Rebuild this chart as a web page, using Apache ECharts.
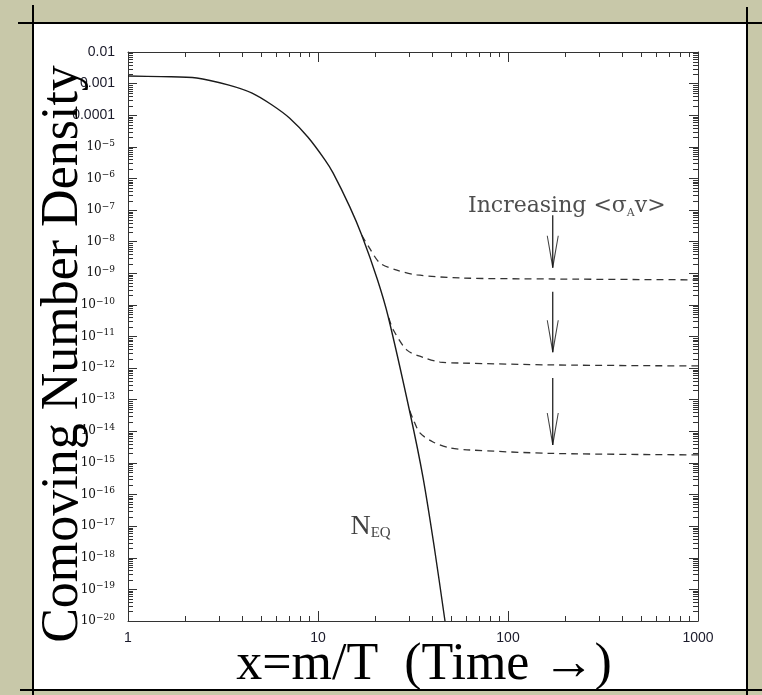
<!DOCTYPE html>
<html>
<head>
<meta charset="utf-8">
<script src="https://cdn.jsdelivr.net/npm/echarts@6/dist/echarts.min.js"></script>
<style>
html,body{margin:0;padding:0;background:#c8c8a9;}
#chart{width:762px;height:695px;}
</style>
</head>
<body>
<div id="chart"></div>
<script>
// ---- data ----
const xTickLabels = ['1', '10', '100', '1000'];
const yTickLabels = ['0.01', '0.001', '0.0001', '10^-5', '10^-6', '10^-7', '10^-8', '10^-9', '10^-10',
  '10^-11', '10^-12', '10^-13', '10^-14', '10^-15', '10^-16', '10^-17', '10^-18', '10^-19', '10^-20'];

// equilibrium curve N_EQ (solid)
const nEqX = [1, 1.5, 2.3, 3.36, 4.5, 5.73, 7.1, 8.86, 10.9, 12.0, 14.7, 17.0, 20.5, 23.4, 30.5, 35.7, 41, 46.6];
const nEqY = [1.74e-3, 1.66e-3, 1.51e-3, 9.1e-4, 5.0e-4, 2.1e-4, 8.0e-5, 2.0e-5, 3.8e-6, 1.5e-6, 1.26e-7,
  1.6e-8, 6.6e-10, 4.3e-11, 3.8e-14, 3.5e-16, 2.0e-18, 1e-20];

// freeze-out curves (dashed)
const fo1X = [17.0, 18.6, 21.2, 26.0, 33.2, 55.9, 172, 1000];
const fo1Y = [1.6e-8, 6.5e-9, 2.1e-9, 1.26e-9, 8.9e-10, 7.1e-10, 6.6e-10, 6.2e-10];
const fo2X = [23.6, 24.8, 29.4, 35.7, 43.9, 55.9, 172, 1000];
const fo2Y = [3.9e-11, 1.7e-11, 3.7e-12, 2.2e-12, 1.55e-12, 1.45e-12, 1.26e-12, 1.17e-12];
const fo3X = [30.4, 31.6, 34.4, 40.3, 49.5, 60.8, 172, 1000];
const fo3Y = [4.5e-14, 2.5e-14, 8.9e-15, 4.6e-15, 3.0e-15, 2.6e-15, 2.0e-15, 1.8e-15];

// arrows "Increasing <sigma v>"
const arrowX = 172;
const arrowTop = [6.9e-8, 2.6e-10, 4.9e-13];
const arrowTip = [1.5e-9, 3.2e-12, 3.7e-15];

// ---- minor ticks (log 2..9 per decade) ----
const xDecades = [1, 10, 100];
const yDecades = [];
for (let e = -20; e <= -3; e++) yDecades.push(Math.pow(10, e));
const mult = [2, 3, 4, 5, 6, 7, 8, 9];
const xMinor = [];
xDecades.forEach(d => mult.forEach(m => xMinor.push(d * m)));
const yMinor = [];
yDecades.forEach(d => mult.forEach(m => yMinor.push(d * m)));

const X_MIN = 1, X_MAX = 1000, Y_MIN = 1e-20, Y_MAX = 0.01;
const AX = '#333';

function pair(xs, ys) { return xs.map((x, i) => [x, ys[i]]); }

const chart = echarts.init(document.getElementById('chart'), null, {renderer: 'canvas'});

function yLabel(v) {
  const i = Math.round(-2 - Math.log10(v));
  const s = yTickLabels[i];
  if (s == null) return '';
  if (s.indexOf('10^') === 0) return '{m|10}{e|' + s.slice(3).replace('-', '\u2212') + '}';
  return '{d|' + s + '}';
}
function xLabel(v) {
  const i = Math.round(Math.log10(v));
  return xTickLabels[i] == null ? '' : xTickLabels[i];
}

const baseX = {
  type: 'log', logBase: 10, min: X_MIN, max: X_MAX, interval: 1, splitNumber: 3,
  axisLine: {show: true, lineStyle: {color: AX, width: 1}},
  axisTick: {show: true, inside: true, length: 10, lineStyle: {color: AX, width: 1}},
  splitLine: {show: false}, minorTick: {show: false}
};
const baseY = {
  type: 'log', logBase: 10, min: Y_MIN, max: Y_MAX, interval: 1, splitNumber: 18,
  axisLine: {show: true, lineStyle: {color: AX, width: 1}},
  axisTick: {show: true, inside: true, length: 9, lineStyle: {color: AX, width: 1}},
  splitLine: {show: false}, minorTick: {show: false}
};

const arrowSeries = [];
arrowTop.forEach((t, i) => {
  arrowSeries.push({
    type: 'line', xAxisIndex: 0, yAxisIndex: 0, symbol: 'none', silent: true, z: 4,
    lineStyle: {color: '#111', width: 1.2},
    data: [[arrowX, t], [arrowX, arrowTip[i]]]
  });
});
arrowSeries.push({
  type: 'scatter', xAxisIndex: 0, yAxisIndex: 0, silent: true, z: 4,
  symbol: 'path://M0,0 L1,0 L6,28 L11,0 L12,0 L6.5,32 L5.5,32 Z',
  symbolSize: [12, 32], symbolOffset: [0, -16],
  itemStyle: {color: '#111'},
  data: arrowTip.map(v => [arrowX, v])
});

const dashStyle = {color: '#333', width: 1.3, type: [7, 5]};

const option = {
  animation: false,
  backgroundColor: 'transparent',
  grid: {left: 128, top: 52, width: 570, height: 569, containLabel: false},
  xAxis: [
    Object.assign({}, baseX, {position: 'bottom',
      axisLabel: {show: true, margin: 10, formatter: xLabel, fontFamily: 'Liberation Sans', fontSize: 14, color: '#1a1a2a'}}),
    Object.assign({}, baseX, {position: 'top', axisLabel: {show: false}})
  ],
  yAxis: [
    Object.assign({}, baseY, {position: 'left',
      axisLabel: {show: true, margin: 13, formatter: yLabel,
        rich: {
          d: {fontFamily: 'Liberation Sans', fontSize: 14, color: '#1a1a2a'},
          m: {fontFamily: 'DejaVu Serif', fontSize: 12, lineHeight: 16, color: '#111'},
          e: {fontFamily: 'DejaVu Serif', fontSize: 9, lineHeight: 10, verticalAlign: 'top', color: '#111'}
        }}}),
    Object.assign({}, baseY, {position: 'right', axisLabel: {show: false}})
  ],
  graphic: [
    {type: 'rect', z: -10, shape: {x: 33, y: 23, width: 714, height: 667}, style: {fill: '#ffffff'}},
    {type: 'line', z: -5, shape: {x1: 33, y1: 5, x2: 33, y2: 695}, style: {stroke: '#000', lineWidth: 2}},
    {type: 'line', z: -5, shape: {x1: 18, y1: 23, x2: 762, y2: 23}, style: {stroke: '#000', lineWidth: 2}},
    {type: 'line', z: -5, shape: {x1: 747, y1: 7, x2: 747, y2: 695}, style: {stroke: '#000', lineWidth: 2}},
    {type: 'line', z: -5, shape: {x1: 20, y1: 690, x2: 762, y2: 690}, style: {stroke: '#000', lineWidth: 2}},
    {type: 'text', z: 10, x: 63, y: 354, rotation: Math.PI / 2,
      style: {text: 'Comoving Number Density', font: '52px "Liberation Serif"', fill: '#000', align: 'center', verticalAlign: 'middle'}},
    {type: 'text', z: 10, x: 424, y: 665,
      style: {text: 'x=m/T  (Time \u2192)', font: '52px "Liberation Serif"', fill: '#000', align: 'center', verticalAlign: 'middle'}}
  ],
  series: [
    {
      type: 'custom', xAxisIndex: 0, yAxisIndex: 0, silent: true, clip: false, z: 3,
      data: yMinor.map(v => [X_MIN, v]),
      renderItem: function (params, api) {
        const v = api.value(1);
        const a = api.coord([X_MIN, v]);
        const b = api.coord([X_MAX, v]);
        const y = Math.round(a[1]) + 0.5;
        return {type: 'group', children: [
          {type: 'line', shape: {x1: a[0], y1: y, x2: a[0] + 5, y2: y}, style: {stroke: AX, lineWidth: 1}},
          {type: 'line', shape: {x1: b[0], y1: y, x2: b[0] - 5, y2: y}, style: {stroke: AX, lineWidth: 1}}
        ]};
      }
    },
    {
      type: 'custom', xAxisIndex: 0, yAxisIndex: 0, silent: true, clip: false, z: 3,
      data: xMinor.map(v => [v, Y_MIN]),
      renderItem: function (params, api) {
        const v = api.value(0);
        const a = api.coord([v, Y_MIN]);
        const b = api.coord([v, Y_MAX]);
        const x = Math.round(a[0]) + 0.5;
        return {type: 'group', children: [
          {type: 'line', shape: {x1: x, y1: a[1], x2: x, y2: a[1] - 5}, style: {stroke: AX, lineWidth: 1}},
          {type: 'line', shape: {x1: x, y1: b[1], x2: x, y2: b[1] + 5}, style: {stroke: AX, lineWidth: 1}}
        ]};
      }
    },
    {
      name: 'N_EQ', type: 'line', xAxisIndex: 0, yAxisIndex: 0, symbol: 'none', smooth: 0.3,
      lineStyle: {color: '#1a1a1a', width: 1.4}, z: 5,
      data: pair(nEqX, nEqY)
    },
    {type: 'line', xAxisIndex: 0, yAxisIndex: 0, symbol: 'none', smooth: 0.3, lineStyle: dashStyle, data: pair(fo1X, fo1Y)},
    {type: 'line', xAxisIndex: 0, yAxisIndex: 0, symbol: 'none', smooth: 0.3, lineStyle: dashStyle, data: pair(fo2X, fo2Y)},
    {type: 'line', xAxisIndex: 0, yAxisIndex: 0, symbol: 'none', smooth: 0.3, lineStyle: dashStyle, data: pair(fo3X, fo3Y)},
    ...arrowSeries,
    {
      type: 'scatter', xAxisIndex: 0, yAxisIndex: 0, silent: true, symbolSize: 1, z: 6,
      itemStyle: {color: 'transparent'},
      label: {show: true, position: 'inside', formatter: '{t|Increasing <\u03c3}{s|A}{t|v>}',
        rich: {
          t: {fontFamily: 'DejaVu Serif', fontSize: 22, lineHeight: 26, color: '#222'},
          s: {fontFamily: 'DejaVu Serif', fontSize: 11, lineHeight: 13, verticalAlign: 'bottom', color: '#222'}
        }},
      data: [[204, 1.35e-7]]
    },
    {
      type: 'scatter', xAxisIndex: 0, yAxisIndex: 0, silent: true, symbolSize: 1, z: 6,
      itemStyle: {color: 'transparent'},
      label: {show: true, position: 'inside', formatter: '{n|N}{s|EQ}',
        rich: {
          n: {fontFamily: 'Liberation Serif', fontSize: 28, lineHeight: 28, color: '#111'},
          s: {fontFamily: 'Liberation Serif', fontSize: 15, lineHeight: 14, verticalAlign: 'bottom', color: '#111'}
        }},
      data: [[18.9, 9.5e-18]]
    }
  ]
};
chart.setOption(option);
</script>
</body>
</html>
